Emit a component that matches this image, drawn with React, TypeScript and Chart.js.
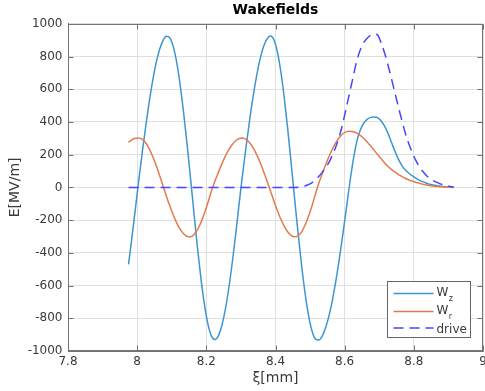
import React, { useEffect, useRef } from "react";
import { Chart, registerables } from "chart.js";

Chart.register(...registerables);

// ---- data ----
const XI = [
  7.975, 7.985, 7.995, 8.005, 8.015, 8.025, 8.035, 8.045, 8.055, 8.065,
  8.075, 8.085, 8.095, 8.105, 8.115, 8.125, 8.135, 8.145, 8.155, 8.165,
  8.175, 8.185, 8.195, 8.205, 8.215, 8.225, 8.235, 8.245, 8.255, 8.265,
  8.275, 8.285, 8.295, 8.305, 8.315, 8.325, 8.335, 8.345, 8.355, 8.365,
  8.375, 8.385, 8.395, 8.405, 8.415, 8.425, 8.435, 8.445, 8.455, 8.465,
  8.475, 8.485, 8.495, 8.505, 8.515, 8.525, 8.535, 8.545, 8.555, 8.565,
  8.575, 8.585, 8.595, 8.605, 8.615, 8.625, 8.635, 8.645, 8.655, 8.665,
  8.675, 8.685, 8.695, 8.705, 8.715, 8.725, 8.735, 8.745, 8.755, 8.765,
  8.775, 8.785, 8.795, 8.805, 8.815, 8.825, 8.835, 8.845, 8.855, 8.865,
  8.875, 8.885, 8.895, 8.905, 8.915,
];

const WZ = [
  -471, -304, -128, 51, 218, 378, 524, 654, 763, 845,
  899, 924, 913, 856, 756, 615, 444, 250, 42, -173,
  -381, -567, -723, -839, -909, -930, -906, -843, -746, -615,
  -459, -284, -96, 84, 250, 408, 552, 677, 781, 858,
  906, 925, 904, 832, 713, 554, 364, 153, -64, -273,
  -468, -638, -776, -873, -926, -933, -909, -857, -782, -684,
  -566, -430, -283, -127, 30, 170, 280, 350, 392, 416,
  428, 431, 427, 408, 376, 332, 278, 222, 174, 135,
  108, 88, 72, 58, 45, 35, 27, 20, 15, 11,
  8, 5, 3, 2, 1,
];

const WR = [
  275, 292, 300, 302, 293, 271, 236, 189, 134, 72,
  7, -57, -117, -172, -220, -258, -285, -300, -301, -286,
  -256, -211, -155, -91, -21, 39, 93, 144, 191, 231,
  262, 285, 299, 302, 293, 273, 243, 203, 155, 100,
  42, -19, -81, -140, -192, -237, -271, -293, -302, -296,
  -273, -233, -180, -116, -44, 24, 82, 138, 190, 236,
  275, 306, 328, 341, 343, 340, 332, 318, 300, 278,
  254, 228, 202, 176, 151, 129, 110, 95, 80, 67,
  56, 47, 39, 32, 26, 20, 15, 11, 8, 6,
  4, 3, 2, 1, 0,
];

const DRIVE = [
  0, 0, 0, 0, 0, 0, 0, 0, 0, 0,
  0, 0, 0, 0, 0, 0, 0, 0, 0, 0,
  0, 0, 0, 0, 0, 0, 0, 0, 0, 0,
  0, 0, 0, 0, 0, 0, 0, 0, 0, 0,
  0, 0, 0, 0, 0, 0, 0, 0, 0, 1,
  4, 8, 17, 28, 45, 66, 92, 122, 155, 200,
  252, 315, 395, 490, 585, 680, 773, 840, 885, 912,
  930, 937, 932, 885, 825, 750, 668, 580, 495, 412,
  335, 270, 215, 168, 130, 100, 76, 57, 43, 32,
  23, 16, 10, 6, 3,
];

const X_TICKS = [7.8, 8, 8.2, 8.4, 8.6, 8.8, 9];
const Y_TICKS = [-1000, -800, -600, -400, -200, 0, 200, 400, 600, 800, 1000];
const TITLE = "Wakefields";
const X_LABEL = "ξ[mm]";
const Y_LABEL = "E[MV/m]";
const LEGEND_LABELS: [string, string][] = [
  ["W", "z"],
  ["W", "r"],
  ["drive", ""],
];

// ---- styles ----
const FONT = "'DejaVu Sans', 'Liberation Sans', sans-serif";
const TEXT = "#3a3a3a";
const AXIS = "#737373";
const GRID = "#e0e0e0";
const C_WZ = "#3b96d2";
const C_WR = "#e27a4e";
const C_DRIVE = "#4646ff";

const framePlugin = {
  id: "frameAndLegend",
  afterDraw(chart: any) {
    const { ctx, chartArea: a, scales } = chart;
    ctx.save();
    // box
    ctx.strokeStyle = AXIS;
    ctx.lineWidth = 1;
    ctx.setLineDash([]);
    const L = Math.round(a.left) + 0.5;
    const R = Math.round(a.right) - 0.5;
    const T = Math.round(a.top) + 0.5;
    const B = Math.round(a.bottom) - 0.5;
    ctx.strokeRect(L, T, R - L, B - T);
    // inward ticks
    const tl = 5;
    ctx.beginPath();
    for (const t of scales.x.ticks) {
      const px = Math.round(scales.x.getPixelForValue(t.value)) + 0.5;
      ctx.moveTo(px, B);
      ctx.lineTo(px, B - tl);
      ctx.moveTo(px, T);
      ctx.lineTo(px, T + tl);
    }
    for (const t of scales.y.ticks) {
      const py = Math.round(scales.y.getPixelForValue(t.value)) + 0.5;
      ctx.moveTo(L, py);
      ctx.lineTo(L + tl, py);
      ctx.moveTo(R, py);
      ctx.lineTo(R - tl, py);
    }
    ctx.stroke();

    // legend
    const bw = 83;
    const bh = 56;
    const bx = Math.round(a.right - 13 - bw) + 0.5;
    const by = Math.round(a.bottom - 14 - bh) + 0.5;
    ctx.fillStyle = "#ffffff";
    ctx.fillRect(bx, by, bw, bh);
    ctx.strokeStyle = "#666666";
    ctx.lineWidth = 1;
    ctx.strokeRect(bx, by, bw, bh);
    const rows = [12, 30, 46.5];
    chart.data.datasets.forEach((ds: any, i: number) => {
      const y = by + rows[i];
      ctx.strokeStyle = ds.borderColor;
      ctx.lineWidth = ds.borderWidth;
      ctx.setLineDash(ds.borderDash || []);
      ctx.beginPath();
      ctx.moveTo(bx + 6, y);
      ctx.lineTo(bx + 46, y);
      ctx.stroke();
      ctx.setLineDash([]);
      const [main, sub] = LEGEND_LABELS[i];
      ctx.fillStyle = TEXT;
      ctx.textAlign = "left";
      ctx.textBaseline = "alphabetic";
      ctx.font = `12px ${FONT}`;
      const tx = bx + 49;
      if (sub) {
        ctx.fillText(main, tx, y + 2);
        const w = ctx.measureText(main).width;
        ctx.font = `8px ${FONT}`;
        ctx.fillText(sub, tx + w + 0.5, y + 7.5);
      } else {
        ctx.fillText(main, tx, y + 4.5);
      }
    });
    ctx.restore();
  },
};

export default function App() {
  const ref = useRef<HTMLCanvasElement | null>(null);

  useEffect(() => {
    if (!ref.current) return;
    const mk = (ys: number[]) => XI.map((x, i) => ({ x, y: ys[i] }));
    const tickFont = { family: FONT, size: 12 };
    const labelFont = { family: FONT, size: 14 };
    const chart = new Chart(ref.current, {
      type: "line",
      data: {
        datasets: [
          {
            label: "Wz",
            data: mk(WZ),
            borderColor: C_WZ,
            borderWidth: 1.5,
            pointRadius: 0,
            fill: false,
            order: 3,
            cubicInterpolationMode: "monotone",
          },
          {
            label: "Wr",
            data: mk(WR),
            borderColor: C_WR,
            borderWidth: 1.5,
            pointRadius: 0,
            fill: false,
            order: 2,
            cubicInterpolationMode: "monotone",
          },
          {
            label: "drive",
            data: mk(DRIVE),
            borderColor: C_DRIVE,
            borderWidth: 1.5,
            borderDash: [10, 6],
            pointRadius: 0,
            fill: false,
            order: 1,
            cubicInterpolationMode: "monotone",
          },
        ],
      } as any,
      options: {
        animation: false,
        responsive: false,
        maintainAspectRatio: false,
        layout: { padding: { left: 0, right: 2, top: 0, bottom: 0 } },
        plugins: {
          legend: { display: false },
          tooltip: { enabled: false },
          title: {
            display: true,
            text: TITLE,
            fullSize: false,
            color: "#000000",
            font: { family: FONT, size: 14, weight: "bold" },
            padding: { top: 1.5, bottom: 5.5 },
          },
        },
        scales: {
          x: {
            type: "linear",
            min: 7.8,
            max: 9,
            afterBuildTicks: (s: any) => {
              s.ticks = X_TICKS.map((v) => ({ value: v }));
            },
            afterFit: (s: any) => {
              s.height = 40;
              s.paddingLeft = 0;
              s.paddingRight = 0;
            },
            ticks: {
              callback: (v: any) => String(v),
              font: tickFont,
              color: TEXT,
              padding: 4,
              maxRotation: 0,
              autoSkip: false,
            },
            grid: { color: GRID, drawTicks: false },
            border: { display: true, color: AXIS },
            title: {
              display: true,
              text: X_LABEL,
              font: labelFont,
              color: TEXT,
              padding: { top: 0, bottom: 4.5 },
            },
          },
          y: {
            type: "linear",
            min: -1000,
            max: 1000,
            afterBuildTicks: (s: any) => {
              s.ticks = Y_TICKS.map((v) => ({ value: v }));
            },
            afterFit: (s: any) => {
              s.width = 68;
              s.paddingTop = 0;
              s.paddingBottom = 0;
            },
            ticks: {
              callback: (v: any) => String(v),
              font: tickFont,
              color: TEXT,
              padding: 5.5,
              autoSkip: false,
            },
            grid: { color: GRID, drawTicks: false },
            border: { display: true, color: AXIS },
            title: {
              display: true,
              text: Y_LABEL,
              font: labelFont,
              color: TEXT,
              padding: { top: 6.5, bottom: 0 },
            },
          },
        },
      } as any,
      plugins: [framePlugin],
    });
    return () => chart.destroy();
  }, []);

  return (
    <div style={{ position: "absolute", left: 0, top: 0, width: 485, height: 391, background: "#fff" }}>
      <canvas ref={ref} width={485} height={391} style={{ width: 485, height: 391, display: "block" }} />
    </div>
  );
}
